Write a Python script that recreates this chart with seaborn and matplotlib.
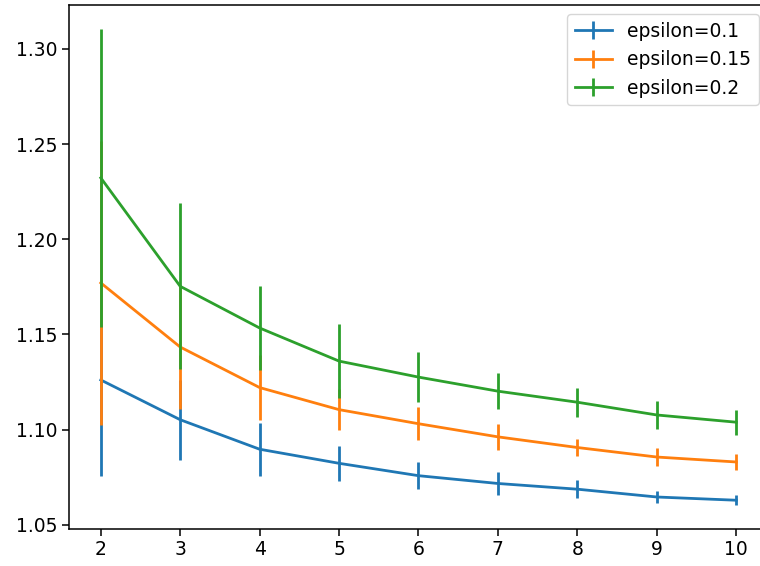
import numpy as np
import pandas as pd
import matplotlib
matplotlib.use("Agg")
import matplotlib.pyplot as plt
from matplotlib.lines import Line2D
import seaborn as sns

# 데이터
x_vals = [2, 3, 4, 5, 6, 7, 8, 9, 10]
labels = ["epsilon=0.1", "epsilon=0.15", "epsilon=0.2"]

mean_01 = [1.1261, 1.1052, 1.0897, 1.0823, 1.0758, 1.0717, 1.0687, 1.0646, 1.0629]
err_01 = [0.0506, 0.0210, 0.0140, 0.0093, 0.0070, 0.0058, 0.0046, 0.0030, 0.0026]

mean_015 = [1.1771, 1.1434, 1.1221, 1.1105, 1.1031, 1.0962, 1.0906, 1.0856, 1.0830]
err_015 = [0.0747, 0.0328, 0.0169, 0.0106, 0.0088, 0.0070, 0.0045, 0.0047, 0.0043]

mean_02 = [1.2323, 1.1753, 1.1534, 1.1360, 1.1276, 1.1202, 1.1144, 1.1077, 1.1039]
err_02 = [0.0783, 0.0437, 0.0219, 0.0194, 0.0130, 0.0096, 0.0077, 0.0074, 0.0066]

means = [mean_01, mean_015, mean_02]
errs = [err_01, err_015, err_02]
colors = sns.color_palette("tab10", 3)

# 원본이 확대된 이미지라 글자/선 크기를 키움
plt.rcParams.update({
    "font.size": 13.5,
    "axes.linewidth": 1.1,
    "xtick.major.size": 4.7,
    "ytick.major.size": 4.7,
    "xtick.major.width": 1.1,
    "ytick.major.width": 1.1,
})

fig = plt.figure(figsize=(7.6, 5.66), dpi=100)
# 오른쪽 축선은 원본에서 잘려 있음
ax = fig.add_axes([69 / 760, 1 - 529 / 566, (768 - 69) / 760, (529 - 5) / 566])

lw = 2.0
handles = []
for lab, m, e, c in zip(labels, means, errs, colors):
    df = pd.DataFrame({"x": x_vals, "y": m})
    sns.lineplot(data=df, x="x", y="y", color=c, linewidth=lw, ax=ax, legend=False)
    ax.errorbar(x_vals, m, yerr=e, fmt="none", ecolor=c, elinewidth=lw)
    handles.append(Line2D([], [], color=c, linewidth=lw, marker="|",
                          markersize=13, markeredgewidth=lw, label=lab))

ax.set_xlabel("")
ax.set_ylabel("")
ax.legend(handles=handles, loc="upper right", fontsize=13.5)

plt.savefig("out.png", dpi=100)
plt.close()
